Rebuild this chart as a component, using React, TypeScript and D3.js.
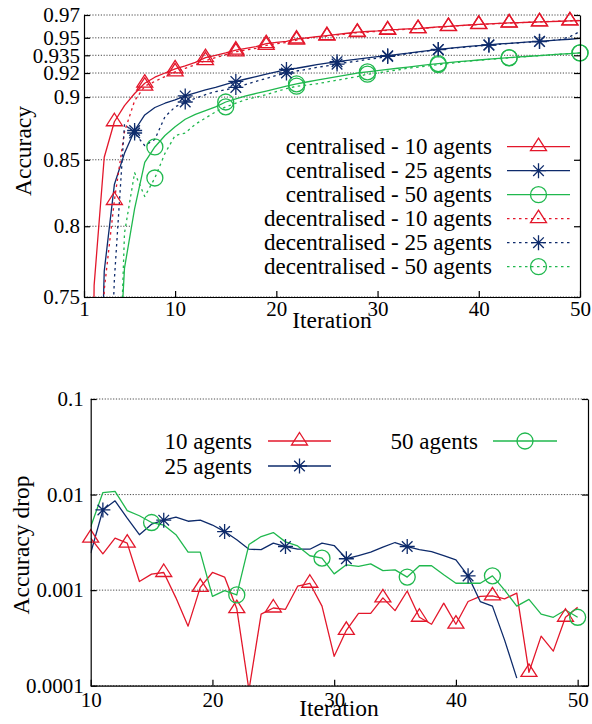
import React, { useRef, useEffect } from 'react';
import * as d3 from 'd3';

// accuracy per iteration, iteration 1..50
const central10 = [0.35, 0.758, 0.852, 0.88, 0.893, 0.903, 0.9115, 0.9165, 0.92, 0.9235, 0.926, 0.929, 0.933, 0.935, 0.937, 0.9395, 0.941, 0.9425, 0.945, 0.946, 0.947, 0.949, 0.95, 0.951, 0.952, 0.953, 0.954, 0.955, 0.9555, 0.956, 0.957, 0.9573, 0.9578, 0.958, 0.9588, 0.9595, 0.96, 0.9606, 0.9612, 0.9618, 0.9622, 0.9626, 0.963, 0.9633, 0.9636, 0.964, 0.9642, 0.9645, 0.9648, 0.965];
const central25 = [0.3, 0.55, 0.768, 0.831, 0.855, 0.873, 0.8855, 0.8915, 0.895, 0.8977, 0.901, 0.9035, 0.906, 0.908, 0.9105, 0.913, 0.915, 0.917, 0.919, 0.921, 0.923, 0.924, 0.9255, 0.927, 0.9284, 0.9296, 0.9306, 0.9317, 0.9328, 0.9338, 0.9347, 0.9358, 0.9368, 0.938, 0.939, 0.94, 0.941, 0.9418, 0.9426, 0.9433, 0.944, 0.9447, 0.9453, 0.9459, 0.9465, 0.947, 0.9476, 0.9482, 0.9488, 0.9495];
const central50 = [0.2, 0.35, 0.5, 0.65, 0.77, 0.813, 0.848, 0.86, 0.869, 0.876, 0.882, 0.886, 0.889, 0.892, 0.896, 0.8985, 0.901, 0.903, 0.905, 0.907, 0.909, 0.911, 0.9125, 0.914, 0.9155, 0.917, 0.9185, 0.92, 0.921, 0.922, 0.923, 0.924, 0.925, 0.926, 0.927, 0.928, 0.9288, 0.9296, 0.9303, 0.931, 0.9317, 0.9324, 0.933, 0.9336, 0.9342, 0.9348, 0.9354, 0.936, 0.9365, 0.937];
const decentral10 = [0.2, 0.45, 0.755, 0.819, 0.872, 0.897, 0.909, 0.913, 0.917, 0.921, 0.924, 0.927, 0.9305, 0.933, 0.9355, 0.938, 0.9395, 0.941, 0.9435, 0.945, 0.946, 0.948, 0.9495, 0.9505, 0.9515, 0.9525, 0.9535, 0.9545, 0.955, 0.9557, 0.9566, 0.957, 0.9576, 0.958, 0.9587, 0.9593, 0.9598, 0.9605, 0.961, 0.9616, 0.962, 0.9625, 0.9629, 0.9632, 0.9636, 0.9639, 0.9643, 0.9645, 0.9648, 0.9652];
const decentral25 = [0.2, 0.4, 0.6, 0.762, 0.878, 0.871, 0.861, 0.866, 0.884, 0.892, 0.896, 0.899, 0.902, 0.9045, 0.906, 0.908, 0.9105, 0.913, 0.9155, 0.918, 0.92, 0.9217, 0.923, 0.9248, 0.926, 0.9275, 0.929, 0.93, 0.9315, 0.9325, 0.934, 0.935, 0.9363, 0.9375, 0.9387, 0.9398, 0.9407, 0.9415, 0.9423, 0.943, 0.9437, 0.9444, 0.9451, 0.9457, 0.9463, 0.9468, 0.9475, 0.9485, 0.951, 0.9555];
const decentral50 = [0.15, 0.3, 0.45, 0.6, 0.795, 0.84, 0.822, 0.836, 0.855, 0.869, 0.871, 0.878, 0.883, 0.888, 0.892, 0.895, 0.898, 0.9, 0.902, 0.9045, 0.907, 0.909, 0.91, 0.911, 0.9125, 0.914, 0.9155, 0.917, 0.919, 0.92, 0.9215, 0.9225, 0.924, 0.925, 0.926, 0.927, 0.928, 0.929, 0.93, 0.9307, 0.9315, 0.9322, 0.9328, 0.9335, 0.9341, 0.9347, 0.9353, 0.9359, 0.9364, 0.937];

// accuracy drop, iteration 10..50 (25 agents stops at 45)
const drop10 = [0.0035, 0.0024, 0.0035, 0.0031, 0.00123, 0.00147, 0.00153, 0.00083, 0.00042, 0.00107, 0.00153, 0.00137, 0.00064, 0.00009, 0.00056, 0.00065, 0.00063, 0.0011, 0.00118, 0.00068, 0.000203, 0.00038, 0.00057, 0.00057, 0.00083, 0.00061, 0.00098, 0.00052, 0.00044, 0.00073, 0.00044, 0.00076, 0.00086, 0.00087, 0.00081, 0.00093, 0.000138, 0.00033, 0.00023, 0.00052, 0.00066];
const drop25 = [0.00244, 0.0069, 0.0086, 0.00566, 0.0038, 0.0049, 0.0054, 0.0058, 0.00526, 0.0054, 0.0048, 0.0041, 0.00336, 0.00268, 0.00265, 0.0031, 0.00286, 0.00268, 0.00268, 0.0031, 0.00293, 0.00213, 0.0023, 0.0025, 0.00282, 0.00315, 0.00286, 0.00265, 0.00253, 0.0023, 0.00207, 0.00141, 0.00076, 0.00068, 0.0003, 0.00012];
const drop50 = [0.0046, 0.0105, 0.0108, 0.0068, 0.006, 0.0051, 0.0048, 0.0038, 0.0025, 0.0025, 0.00086, 0.00099, 0.00089, 0.003, 0.00364, 0.004, 0.0032, 0.0029, 0.00229, 0.00216, 0.00148, 0.00184, 0.00177, 0.00188, 0.0016, 0.00163, 0.00137, 0.0018, 0.0018, 0.00145, 0.00118, 0.00118, 0.00118, 0.00141, 0.001, 0.00068, 0.0008, 0.00056, 0.00052, 0.00062, 0.00052];

const topXTicks = [1, 10, 20, 30, 40, 50];
const topYTicks = [0.75, 0.8, 0.85, 0.9, 0.92, 0.935, 0.95, 0.97];
const topYLabels = ['0.75', '0.8', '0.85', '0.9', '0.92', '0.935', '0.95', '0.97'];
const bottomXTicks = [10, 20, 30, 40, 50];
const bottomYTicks = [0.0001, 0.001, 0.01, 0.1];
const bottomYLabels = ['0.0001', '0.001', '0.01', '0.1'];

const RED = '#e3172b';
const BLUE = '#0e2b6b';
const GREEN = '#20b84e';
const FONT = "'Liberation Serif', 'Times New Roman', serif";

function drawMarker(g, kind, x, y, color) {
  let el;
  if (kind === 'triangle') {
    el = g.append('path').attr('d', `M${x},${y - 8.5}L${x + 8},${y + 4}L${x - 8},${y + 4}Z`);
  } else if (kind === 'star') {
    const a = 7.5, b = 5.3;
    el = g.append('path').attr('d',
      `M${x - a},${y}H${x + a}M${x},${y - a}V${y + a}M${x - b},${y - b}L${x + b},${y + b}M${x - b},${y + b}L${x + b},${y - b}`);
  } else {
    el = g.append('circle').attr('cx', x).attr('cy', y).attr('r', 8);
  }
  el.attr('fill', 'none').attr('stroke', color).attr('stroke-width', 1.3);
}

function drawPanel(svg, cfg) {
  const { id, xDomain, xRange, yDomain, yRange, xTicks, yTicks, yLabels, series, labelPad, xLabelPad, keyBox } = cfg;
  const x = d3.scaleLinear().domain(xDomain).range(xRange);
  const y = d3.scaleLog().domain(yDomain).range(yRange);
  const g = svg.append('g');

  g.append('clipPath').attr('id', id).append('rect')
    .attr('x', xRange[0]).attr('y', yRange[1])
    .attr('width', xRange[1] - xRange[0]).attr('height', yRange[0] - yRange[1]);

  // dotted grid
  g.append('g').selectAll('line').data(yTicks).join('line')
    .attr('x1', xRange[0]).attr('x2', xRange[1])
    .attr('y1', (d) => y(d)).attr('y2', (d) => y(d))
    .attr('stroke', '#333').attr('stroke-width', 0.9).attr('stroke-dasharray', '1.2,1.6');

  if (keyBox) {
    g.append('rect').attr('x', keyBox[0]).attr('y', keyBox[1])
      .attr('width', keyBox[2]).attr('height', keyBox[3]).attr('fill', '#fff');
  }

  const plot = g.append('g').attr('clip-path', `url(#${id})`);
  series.forEach((s) => {
    const pts = s.values.map((v, i) => ({ it: s.start + i, v }));
    const line = d3.line().x((d) => x(d.it)).y((d) => y(d.v));
    plot.append('path').attr('d', line(pts))
      .attr('fill', 'none').attr('stroke', s.color).attr('stroke-width', 1.3)
      .attr('stroke-dasharray', s.dashed ? '2.5,3.5' : null)
      .attr('stroke-linejoin', 'round');
  });
  series.forEach((s) => {
    s.values.forEach((v, i) => {
      const it = s.start + i;
      if ((it - 1) % s.every !== 0) return;
      if (v < yDomain[0] || v > yDomain[1]) return;
      drawMarker(g, s.marker, x(it), y(v), s.color);
    });
  });

  // axes
  const axisStyle = (a) => {
    a.attr('font-family', FONT).attr('font-size', 21).attr('color', '#000');
    a.selectAll('path').attr('stroke-width', 1.2);
    a.selectAll('line').attr('stroke-width', 1.2);
  };
  g.append('g').attr('transform', `translate(0,${yRange[0]})`)
    .call(d3.axisBottom(x).tickValues(xTicks).tickFormat(d3.format('d'))
      .tickSizeInner(-6).tickSizeOuter(0).tickPadding(xLabelPad))
    .call(axisStyle);
  g.append('g').attr('transform', `translate(${xRange[0]},0)`)
    .call(d3.axisLeft(y).tickValues(yTicks).tickFormat((d, i) => yLabels[i])
      .tickSizeInner(-6).tickSizeOuter(0).tickPadding(labelPad))
    .call(axisStyle);
  g.append('g').attr('transform', `translate(${xRange[1]},0)`)
    .call(d3.axisRight(y).tickValues(yTicks).tickFormat(() => '')
      .tickSizeInner(-6).tickSizeOuter(0))
    .call(axisStyle);

  return { x, y, g };
}

export default function App() {
  const ref = useRef(null);

  useEffect(() => {
    const svg = d3.select(ref.current);
    svg.selectAll('*').remove();

    const topSeries = [
      { name: 'centralised - 10 agents', values: central10, color: RED, marker: 'triangle', every: 3, dashed: false, start: 1 },
      { name: 'centralised - 25 agents', values: central25, color: BLUE, marker: 'star', every: 5, dashed: false, start: 1 },
      { name: 'centralised - 50 agents', values: central50, color: GREEN, marker: 'circle', every: 7, dashed: false, start: 1 },
      { name: 'decentralised - 10 agents', values: decentral10, color: RED, marker: 'triangle', every: 3, dashed: true, start: 1 },
      { name: 'decentralised - 25 agents', values: decentral25, color: BLUE, marker: 'star', every: 5, dashed: true, start: 1 },
      { name: 'decentralised - 50 agents', values: decentral50, color: GREEN, marker: 'circle', every: 7, dashed: true, start: 1 },
    ];

    const top = drawPanel(svg, {
      id: 'clipTop',
      xDomain: [1, 50], xRange: [84, 580],
      yDomain: [0.75, 0.97], yRange: [297, 15],
      xTicks: topXTicks, yTicks: topYTicks, yLabels: topYLabels,
      series: topSeries, labelPad: 4, xLabelPad: 4,
      keyBox: [131, 122, 448, 173],
    });

    // top legend
    topSeries.forEach((s, i) => {
      const cy = 146.7 + i * 24;
      top.g.append('text').attr('x', 492).attr('y', cy).attr('dy', '0.33em')
        .attr('text-anchor', 'end').attr('font-family', FONT).attr('font-size', 23)
        .text(s.name);
      top.g.append('line').attr('x1', 507).attr('x2', 570).attr('y1', cy).attr('y2', cy)
        .attr('stroke', s.color).attr('stroke-width', 1.3)
        .attr('stroke-dasharray', s.dashed ? '2.5,3.5' : null);
      drawMarker(top.g, s.marker, 538.5, cy, s.color);
    });

    top.g.append('text').attr('transform', 'translate(30.5,151) rotate(-90)')
      .attr('text-anchor', 'middle').attr('font-family', FONT).attr('font-size', 23.5)
      .text('Accuracy');
    top.g.append('text').attr('x', 332).attr('y', 328)
      .attr('text-anchor', 'middle').attr('font-family', FONT).attr('font-size', 23.5)
      .text('Iteration');

    const bottomSeries = [
      { name: '10 agents', values: drop10, color: RED, marker: 'triangle', every: 3, dashed: false, start: 10 },
      { name: '25 agents', values: drop25, color: BLUE, marker: 'star', every: 5, dashed: false, start: 10 },
      { name: '50 agents', values: drop50, color: GREEN, marker: 'circle', every: 7, dashed: false, start: 10 },
    ];

    const bottom = drawPanel(svg, {
      id: 'clipBottom',
      xDomain: [10, 50.85], xRange: [90.7, 588],
      yDomain: [0.0001, 0.1], yRange: [685.7, 399],
      xTicks: bottomXTicks, yTicks: bottomYTicks, yLabels: bottomYLabels,
      series: bottomSeries, labelPad: 7, xLabelPad: 6,
      keyBox: null,
    });

    const bottomKey = [
      { textEnd: 252, lineFrom: 268, lineTo: 331, cy: 441 },
      { textEnd: 252, lineFrom: 268, lineTo: 331, cy: 466 },
      { textEnd: 478, lineFrom: 493, lineTo: 557, cy: 441 },
    ];
    bottomSeries.forEach((s, i) => {
      const k = bottomKey[i];
      bottom.g.append('text').attr('x', k.textEnd).attr('y', k.cy).attr('dy', '0.33em')
        .attr('text-anchor', 'end').attr('font-family', FONT).attr('font-size', 23)
        .text(s.name);
      bottom.g.append('line').attr('x1', k.lineFrom).attr('x2', k.lineTo)
        .attr('y1', k.cy).attr('y2', k.cy)
        .attr('stroke', s.color).attr('stroke-width', 1.3);
      drawMarker(bottom.g, s.marker, (k.lineFrom + k.lineTo) / 2, k.cy, s.color);
    });

    bottom.g.append('text').attr('transform', 'translate(29,545) rotate(-90)')
      .attr('text-anchor', 'middle').attr('font-family', FONT).attr('font-size', 23.5)
      .text('Accuracy drop');
    bottom.g.append('text').attr('x', 339).attr('y', 716)
      .attr('text-anchor', 'middle').attr('font-family', FONT).attr('font-size', 23.5)
      .text('Iteration');
  }, []);

  return (
    <svg ref={ref} width={592} height={724}
      style={{ position: 'absolute', left: 0, top: 0, background: '#fff' }} />
  );
}
